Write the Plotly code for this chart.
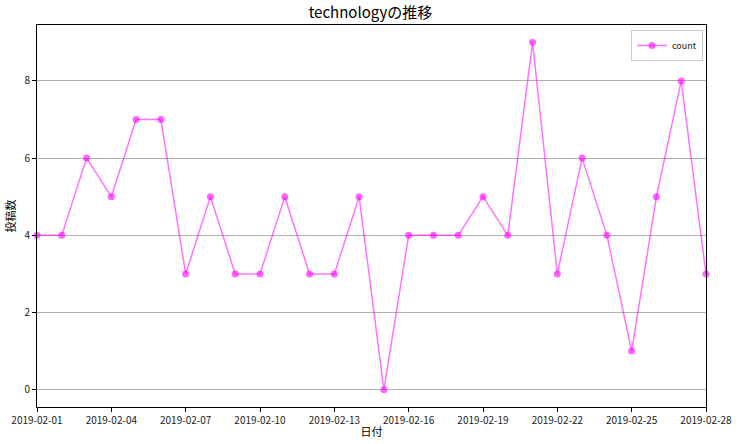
import plotly.graph_objects as go
import pandas as pd

dates = pd.date_range("2019-02-01", "2019-02-28", freq="D").strftime("%Y-%m-%d").tolist()
counts = [4, 4, 6, 5, 7, 7, 3, 5, 3, 3, 5, 3, 3, 5, 0, 4, 4, 4, 5, 4, 9, 3, 6, 4, 1, 5, 8, 3]
series_name = "count"

font_family = "Noto Sans CJK JP, DejaVu Sans, sans-serif"

fig = go.Figure()
fig.add_trace(go.Scatter(
    x=dates, y=counts, name=series_name, mode="lines+markers",
    line=dict(color="rgba(255,0,255,0.55)", width=1.5),
    marker=dict(color="rgba(255,0,255,0.6)", size=7, symbol="circle"),
    cliponaxis=False,
))

fig.update_layout(
    width=741, height=444,
    margin=dict(l=37, r=35, t=25, b=37, autoexpand=False),
    paper_bgcolor="white", plot_bgcolor="white",
    font=dict(family=font_family, size=10, color="#222222"),
    title=dict(text="technologyの推移", x=0.5, xanchor="center", y=1 - 13 / 444, yanchor="middle",
               font=dict(size=15, family=font_family, color="black")),
    showlegend=True,
    legend=dict(x=0.9955, y=0.987, xanchor="right", yanchor="top",
                bgcolor="rgba(255,255,255,0.8)", bordercolor="#cccccc", borderwidth=1,
                font=dict(size=9), itemwidth=30),
    xaxis=dict(
        type="date", range=["2019-02-01", "2019-02-28"], automargin=False,
        tick0="2019-02-01", dtick=3 * 86400000, tickformat="%Y-%m-%d",
        showgrid=False, showline=True, linecolor="black", linewidth=1, mirror=True,
        ticks="outside", ticklen=4, tickcolor="black",
        title=dict(text="日付", standoff=2, font=dict(size=11, color="black")),
        zeroline=False,
    ),
    yaxis=dict(
        range=[-0.45, 9.45], tickvals=[0, 2, 4, 6, 8], automargin=False,
        showgrid=True, gridcolor="#b0b0b0", gridwidth=1,
        showline=True, linecolor="black", linewidth=1, mirror=True,
        ticks="outside", ticklen=4, tickcolor="black",
        title=dict(text="投稿数", standoff=6, font=dict(size=11, color="black")),
        zeroline=False,
    ),
)

fig.write_html("out.html", config={"displayModeBar": False},
               post_script="document.body.style.margin='0';document.body.style.padding='0';")
